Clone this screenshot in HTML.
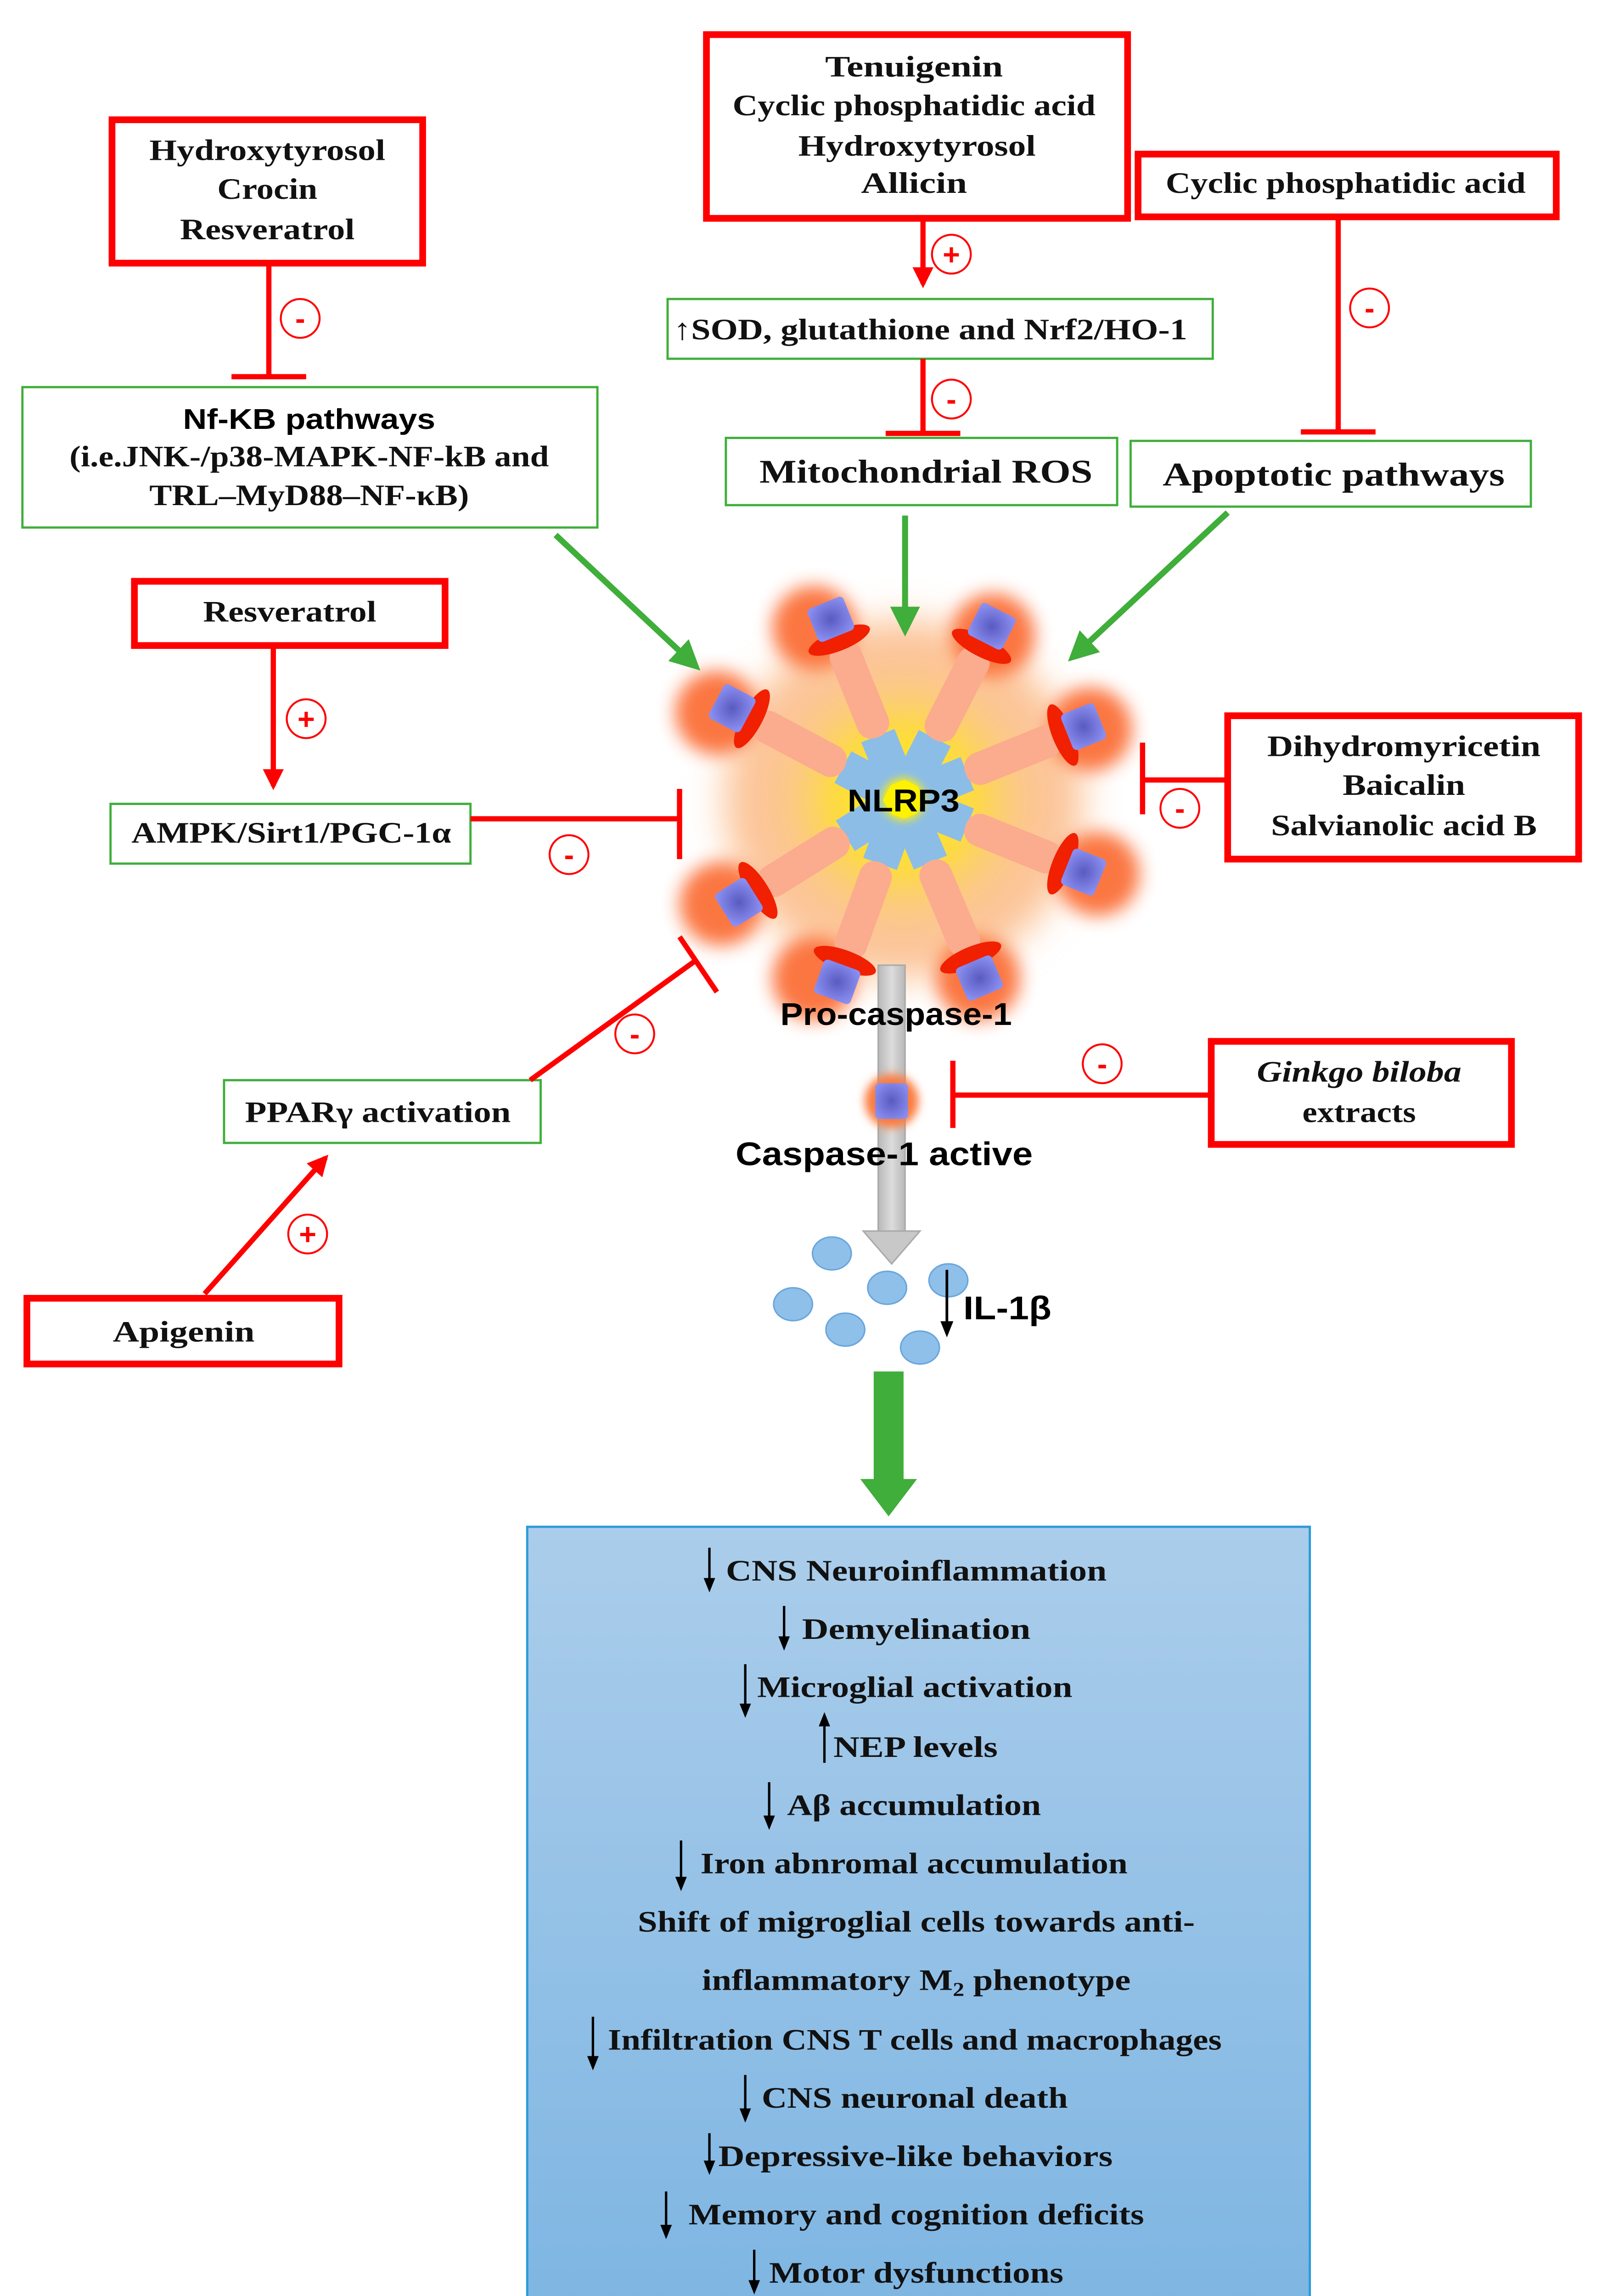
<!DOCTYPE html>
<html><head><meta charset="utf-8">
<style>
html,body{margin:0;padding:0;background:#fff;width:3513px;height:5121px;overflow:hidden;}
svg{display:block;}
.s{font-family:"Liberation Serif",serif;font-weight:bold;fill:#111;}
.a{font-family:"Liberation Sans",sans-serif;font-weight:bold;fill:#000;}
</style></head>
<body>
<svg width="3513" height="5121" viewBox="0 0 1080 1574" xmlns="http://www.w3.org/2000/svg">
<defs>
<filter id="blur12" x="-50%" y="-50%" width="200%" height="200%"><feGaussianBlur stdDeviation="12"/></filter>
<filter id="blur6" x="-50%" y="-50%" width="200%" height="200%"><feGaussianBlur stdDeviation="6"/></filter>
<filter id="blur3" x="-50%" y="-50%" width="200%" height="200%"><feGaussianBlur stdDeviation="3"/></filter>
<radialGradient id="core" cx="50%" cy="50%" r="50%">
<stop offset="0" stop-color="#fff200"/><stop offset="0.5" stop-color="#fdd84a"/><stop offset="1" stop-color="#fcc890" stop-opacity="0"/></radialGradient>
<radialGradient id="blue" cx="50%" cy="50%" r="60%"><stop offset="0" stop-color="#5a5ac0"/><stop offset="1" stop-color="#8a8ef0"/></radialGradient>
<linearGradient id="box" x1="0" y1="0" x2="0" y2="1"><stop offset="0" stop-color="#abcdeb"/><stop offset="1" stop-color="#7db5e2"/></linearGradient>
<linearGradient id="gray" x1="0" y1="0" x2="1" y2="0"><stop offset="0" stop-color="#b8b8b8"/><stop offset="0.5" stop-color="#dcdcdc"/><stop offset="1" stop-color="#b8b8b8"/></linearGradient>
<marker id="gh" viewBox="0 0 10 10" refX="8" refY="5" markerWidth="5" markerHeight="5" orient="auto"><path d="M0,0L10,5L0,10z" fill="#3fae3a"/></marker>
<marker id="rh" viewBox="0 0 10 10" refX="8" refY="5" markerWidth="4" markerHeight="4" orient="auto"><path d="M0,0L10,5L0,10z" fill="#f00"/></marker>
<marker id="kh" viewBox="0 0 10 10" refX="8" refY="5" markerWidth="6" markerHeight="6" orient="auto"><path d="M0,1L10,5L0,9z" fill="#000"/></marker>
</defs>

<g>
 <g filter="url(#blur12)">
  <circle cx="605" cy="535" r="120" fill="#fcc498"/>
 </g>
 <g filter="url(#blur6)" opacity="0.95">
  <circle cx="545" cy="420" r="28" fill="#fb7038"/><circle cx="665" cy="425" r="28" fill="#fb7038"/>
  <circle cx="730" cy="488" r="28" fill="#fb7038"/><circle cx="735" cy="585" r="28" fill="#fb7038"/>
  <circle cx="655" cy="655" r="28" fill="#fb7038"/><circle cx="545" cy="655" r="28" fill="#fb7038"/>
  <circle cx="483" cy="605" r="28" fill="#fb7038"/><circle cx="480" cy="477" r="28" fill="#fb7038"/>
 </g>
 <circle cx="605" cy="535" r="100" fill="url(#core)"/>
 <g>
  <g transform="translate(605,535) rotate(-112)"><rect x="12" y="-12" width="34" height="24" fill="#8cbde6"/><rect x="45" y="-11" width="68" height="22" rx="10" fill="#fbab8e"/><ellipse cx="115" cy="0" rx="7" ry="22" fill="#f02000"/><rect x="118" y="-13" width="24" height="26" rx="3" fill="url(#blue)"/></g>
  <g transform="translate(605,535) rotate(-63)"><rect x="12" y="-12" width="34" height="24" fill="#8cbde6"/><rect x="45" y="-11" width="68" height="22" rx="10" fill="#fbab8e"/><ellipse cx="115" cy="0" rx="7" ry="22" fill="#f02000"/><rect x="118" y="-13" width="24" height="26" rx="3" fill="url(#blue)"/></g>
  <g transform="translate(605,535) rotate(-22)"><rect x="12" y="-12" width="34" height="24" fill="#8cbde6"/><rect x="45" y="-11" width="68" height="22" rx="10" fill="#fbab8e"/><ellipse cx="115" cy="0" rx="7" ry="22" fill="#f02000"/><rect x="118" y="-13" width="24" height="26" rx="3" fill="url(#blue)"/></g>
  <g transform="translate(605,535) rotate(22)"><rect x="12" y="-12" width="34" height="24" fill="#8cbde6"/><rect x="45" y="-11" width="68" height="22" rx="10" fill="#fbab8e"/><ellipse cx="115" cy="0" rx="7" ry="22" fill="#f02000"/><rect x="118" y="-13" width="24" height="26" rx="3" fill="url(#blue)"/></g>
  <g transform="translate(605,535) rotate(67)"><rect x="12" y="-12" width="34" height="24" fill="#8cbde6"/><rect x="45" y="-11" width="68" height="22" rx="10" fill="#fbab8e"/><ellipse cx="115" cy="0" rx="7" ry="22" fill="#f02000"/><rect x="118" y="-13" width="24" height="26" rx="3" fill="url(#blue)"/></g>
  <g transform="translate(605,535) rotate(110)"><rect x="12" y="-12" width="34" height="24" fill="#8cbde6"/><rect x="45" y="-11" width="68" height="22" rx="10" fill="#fbab8e"/><ellipse cx="115" cy="0" rx="7" ry="22" fill="#f02000"/><rect x="118" y="-13" width="24" height="26" rx="3" fill="url(#blue)"/></g>
  <g transform="translate(605,535) rotate(148)"><rect x="12" y="-12" width="34" height="24" fill="#8cbde6"/><rect x="45" y="-11" width="68" height="22" rx="10" fill="#fbab8e"/><ellipse cx="115" cy="0" rx="7" ry="22" fill="#f02000"/><rect x="118" y="-13" width="24" height="26" rx="3" fill="url(#blue)"/></g>
  <g transform="translate(605,535) rotate(-152)"><rect x="12" y="-12" width="34" height="24" fill="#8cbde6"/><rect x="45" y="-11" width="68" height="22" rx="10" fill="#fbab8e"/><ellipse cx="115" cy="0" rx="7" ry="22" fill="#f02000"/><rect x="118" y="-13" width="24" height="26" rx="3" fill="url(#blue)"/></g>
 </g>
 <circle cx="605" cy="535" r="14" fill="#fff200" filter="url(#blur3)"/>
 <text x="605" y="543" text-anchor="middle" class="a" font-size="21" textLength="75" lengthAdjust="spacingAndGlyphs">NLRP3</text>
</g>

<rect x="588" y="646" width="18" height="180" fill="url(#gray)" stroke="#aaa" stroke-width="1"/>
<path d="M578,824L616,824L597,846z" fill="#c8c8c8" stroke="#aaa"/>
<text x="600" y="686" text-anchor="middle" class="a" font-size="21" textLength="155" lengthAdjust="spacingAndGlyphs">Pro-caspase-1</text>
<circle cx="597" cy="737" r="18" fill="#fb7a3c" filter="url(#blur3)"/>
<rect x="586" y="725" width="22" height="24" rx="3" fill="url(#blue)"/>
<text x="592" y="780" text-anchor="middle" class="a" font-size="22" textLength="199" lengthAdjust="spacingAndGlyphs">Caspase-1 active</text>

<g fill="#8fc0ea" stroke="#6aa6dc" stroke-width="1">
<ellipse cx="557" cy="839" rx="13" ry="11"/><ellipse cx="594" cy="862" rx="13" ry="11"/><ellipse cx="635" cy="857" rx="13" ry="11"/>
<ellipse cx="531" cy="873" rx="13" ry="11"/><ellipse cx="566" cy="890" rx="13" ry="11"/><ellipse cx="616" cy="902" rx="13" ry="11"/>
</g>
<line x1="634" y1="850" x2="634" y2="893" stroke="#000" stroke-width="1.8" marker-end="url(#kh)"/>
<text x="645" y="883" class="a" font-size="22" textLength="59" lengthAdjust="spacingAndGlyphs">IL-1β</text>

<path d="M585,918H605V990H614L595,1015L576,990H585z" fill="#3fae3a"/>

<g fill="none" stroke-width="4.5" stroke="#f00">
<rect x="75" y="80" width="208" height="96"/>
<rect x="473" y="23" width="282" height="123"/>
<rect x="762" y="103" width="280" height="42"/>
<rect x="90" y="389" width="208" height="43"/>
<rect x="822" y="479" width="235" height="96"/>
<rect x="811" y="697" width="201" height="69"/>
<rect x="18" y="869" width="209" height="44"/>
</g>
<g fill="#fff" stroke-width="1.5" stroke="#3fae3a">
<rect x="15" y="259" width="385" height="94"/>
<rect x="447" y="200" width="365" height="40"/>
<rect x="486" y="293" width="262" height="45"/>
<rect x="757" y="295" width="268" height="44"/>
<rect x="74" y="538" width="241" height="40"/>
<rect x="150" y="723" width="212" height="42"/>
</g>

<g class="s" font-size="20" text-anchor="middle">
<text x="179" y="107" textLength="158" lengthAdjust="spacingAndGlyphs">Hydroxytyrosol</text>
<text x="179" y="133" textLength="67" lengthAdjust="spacingAndGlyphs">Crocin</text>
<text x="179" y="160" textLength="117" lengthAdjust="spacingAndGlyphs">Resveratrol</text>
<text x="612" y="51" textLength="119" lengthAdjust="spacingAndGlyphs">Tenuigenin</text>
<text x="612" y="77" textLength="243" lengthAdjust="spacingAndGlyphs">Cyclic phosphatidic acid</text>
<text x="614" y="104" textLength="159" lengthAdjust="spacingAndGlyphs">Hydroxytyrosol</text>
<text x="612" y="129" textLength="71" lengthAdjust="spacingAndGlyphs">Allicin</text>
<text x="901" y="129" textLength="241" lengthAdjust="spacingAndGlyphs">Cyclic phosphatidic acid</text>
<text x="207" y="312" textLength="321" lengthAdjust="spacingAndGlyphs">(i.e.JNK-/p38-MAPK-NF-kB and</text>
<text x="207" y="338" textLength="214" lengthAdjust="spacingAndGlyphs">TRL–MyD88–NF-κB)</text>
<text x="623" y="227" textLength="344" lengthAdjust="spacingAndGlyphs">↑SOD, glutathione and Nrf2/HO-1</text>
<text x="620" y="323" font-size="22" textLength="223" lengthAdjust="spacingAndGlyphs">Mitochondrial ROS</text>
<text x="893" y="325" font-size="22" textLength="229" lengthAdjust="spacingAndGlyphs">Apoptotic pathways</text>
<text x="194" y="416" textLength="116" lengthAdjust="spacingAndGlyphs">Resveratrol</text>
<text x="195" y="564" textLength="214" lengthAdjust="spacingAndGlyphs">AMPK/Sirt1/PGC-1α</text>
<text x="940" y="506" textLength="183" lengthAdjust="spacingAndGlyphs">Dihydromyricetin</text>
<text x="940" y="532" textLength="82" lengthAdjust="spacingAndGlyphs">Baicalin</text>
<text x="940" y="559" textLength="178" lengthAdjust="spacingAndGlyphs">Salvianolic acid B</text>
<text x="910" y="724" font-style="italic" textLength="137" lengthAdjust="spacingAndGlyphs">Ginkgo biloba</text>
<text x="910" y="751" textLength="76" lengthAdjust="spacingAndGlyphs">extracts</text>
<text x="253" y="751" textLength="178" lengthAdjust="spacingAndGlyphs">PPARγ activation</text>
<text x="123" y="898" textLength="95" lengthAdjust="spacingAndGlyphs">Apigenin</text>
</g>
<text x="207" y="287" class="a" font-size="19" text-anchor="middle" textLength="169" lengthAdjust="spacingAndGlyphs">Nf-KB pathways</text>

<g stroke="#f00" stroke-width="3.5" fill="none">
<path d="M180,176V252M155,252H205"/>
<path d="M618,240V290M593,290H643"/>
<path d="M896,145V289M871,289H921"/>
<path d="M315,548H455M455,528V575"/>
<path d="M822,522H765M765,497V545"/>
<path d="M355,723L467,642M455,627L480,664"/>
<path d="M811,733H638M638,710V755"/>
</g>
<g stroke="#f00" stroke-width="3.5">
<line x1="618" y1="146" x2="618" y2="190" marker-end="url(#rh)"/>
<line x1="183" y1="432" x2="183" y2="526" marker-end="url(#rh)"/>
<line x1="137" y1="866" x2="218" y2="775" marker-end="url(#rh)"/>
</g>
<g stroke="#3fae3a" stroke-width="4">
<line x1="372" y1="358" x2="466" y2="446" marker-end="url(#gh)"/>
<line x1="606" y1="345" x2="606" y2="422" marker-end="url(#gh)"/>
<line x1="822" y1="343" x2="718" y2="440" marker-end="url(#gh)"/>
</g>

<g fill="#fff" stroke="#f00" stroke-width="1.3">
<circle cx="201" cy="213" r="13"/><circle cx="637" cy="170" r="13"/><circle cx="637" cy="267" r="13"/>
<circle cx="917" cy="206" r="13"/><circle cx="205" cy="481" r="13"/><circle cx="381" cy="572" r="13"/>
<circle cx="790" cy="541" r="13"/><circle cx="425" cy="692" r="13"/><circle cx="738" cy="712" r="13"/>
<circle cx="206" cy="826" r="13"/>
</g>
<g fill="#f00" font-family="Liberation Sans,sans-serif" font-size="20" font-weight="bold" text-anchor="middle">
<text x="201" y="220">-</text><text x="637" y="177">+</text><text x="637" y="274">-</text>
<text x="917" y="213">-</text><text x="205" y="488">+</text><text x="381" y="579">-</text>
<text x="790" y="548">-</text><text x="425" y="699">-</text><text x="738" y="719">-</text>
<text x="206" y="833">+</text>
</g>

<rect x="353" y="1022" width="524" height="533" fill="url(#box)" stroke="#2a9ad8" stroke-width="1.5"/>
<g class="s" font-size="20">
<text x="486" y="1058" textLength="255" lengthAdjust="spacingAndGlyphs">CNS Neuroinflammation</text>
<text x="537" y="1097" textLength="153" lengthAdjust="spacingAndGlyphs">Demyelination</text>
<text x="507" y="1136" textLength="211" lengthAdjust="spacingAndGlyphs">Microglial activation</text>
<text x="558" y="1176" textLength="110" lengthAdjust="spacingAndGlyphs">NEP levels</text>
<text x="527" y="1215" textLength="170" lengthAdjust="spacingAndGlyphs">Aβ accumulation</text>
<text x="469" y="1254" textLength="286" lengthAdjust="spacingAndGlyphs">Iron abnromal accumulation</text>
<text x="427" y="1293" textLength="373" lengthAdjust="spacingAndGlyphs">Shift of migroglial cells towards anti-</text>
<text x="470" y="1332" textLength="287" lengthAdjust="spacingAndGlyphs">inflammatory M<tspan font-size="13" dy="4">2</tspan><tspan dy="-4"> phenotype</tspan></text>
<text x="407" y="1372" textLength="411" lengthAdjust="spacingAndGlyphs">Infiltration CNS T cells and macrophages</text>
<text x="510" y="1411" textLength="205" lengthAdjust="spacingAndGlyphs">CNS neuronal death</text>
<text x="481" y="1450" textLength="264" lengthAdjust="spacingAndGlyphs">Depressive-like behaviors</text>
<text x="461" y="1489" textLength="305" lengthAdjust="spacingAndGlyphs">Memory and cognition deficits</text>
<text x="515" y="1528" textLength="197" lengthAdjust="spacingAndGlyphs">Motor dysfunctions</text>
</g>
<g stroke="#000" stroke-width="1.6">
<line x1="475" y1="1036" x2="475" y2="1064" marker-end="url(#kh)"/>
<line x1="525" y1="1075" x2="525" y2="1103" marker-end="url(#kh)"/>
<line x1="499" y1="1114" x2="499" y2="1148" marker-end="url(#kh)"/>
<line x1="552" y1="1180" x2="552" y2="1148" marker-end="url(#kh)"/>
<line x1="515" y1="1193" x2="515" y2="1223" marker-end="url(#kh)"/>
<line x1="456" y1="1232" x2="456" y2="1264" marker-end="url(#kh)"/>
<line x1="397" y1="1350" x2="397" y2="1384" marker-end="url(#kh)"/>
<line x1="499" y1="1389" x2="499" y2="1419" marker-end="url(#kh)"/>
<line x1="475" y1="1428" x2="475" y2="1454" marker-end="url(#kh)"/>
<line x1="446" y1="1467" x2="446" y2="1497" marker-end="url(#kh)"/>
<line x1="505" y1="1506" x2="505" y2="1534" marker-end="url(#kh)"/>
</g>
</svg>
</body></html>
